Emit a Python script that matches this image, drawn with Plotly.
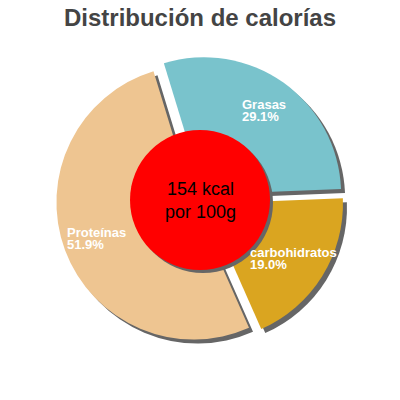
import math
import plotly.graph_objects as go

# datos
nutrientes = ['Grasas', 'carbohidratos', 'Proteínas']
porcentajes = [29.1, 19.0, 51.9]
colores = ['#79C3CC', '#DAA520', '#EEC591']
texto_centro = '154 kcal<br>por 100g'
titulo = 'Distribución de calorías'

W = H = 400
OFF = 8  # margen del body de la página


def px(x):
    return (x - OFF) / W


def py(y):
    return 1 - (y - OFF) / H


cx, cy = 200, 200     # centro del pastel en la pantalla
medio = 144           # radio + tirón, en px
rotacion = -17        # grados, sentido horario desde las 12
tirar = 0.05
oculto = '<span style="color:rgba(0,0,0,0)">{}</span>'

fig = go.Figure()

# sombra del pastel
fig.add_trace(go.Pie(
    labels=nutrientes, values=porcentajes, sort=False, direction='clockwise',
    rotation=rotacion, pull=[tirar] * len(nutrientes),
    marker=dict(colors=['#666666'] * len(nutrientes)),
    textinfo='none', hoverinfo='skip', showlegend=False,
    domain=dict(x=[px(cx - medio + 4), px(cx + medio + 4)],
                y=[py(cy + medio + 4), py(cy - medio + 4)]),
))

fig.add_trace(go.Pie(
    labels=nutrientes, values=porcentajes, sort=False, direction='clockwise',
    rotation=rotacion, pull=[tirar] * len(nutrientes),
    marker=dict(colors=colores),
    textinfo='none', showlegend=False,
    domain=dict(x=[px(cx - medio), px(cx + medio)],
                y=[py(cy + medio), py(cy - medio)]),
))

# etiquetas a lo largo del ángulo medio de cada porción
# (dos anotaciones por etiqueta, con la otra línea invisible, para juntar las líneas)
total = sum(porcentajes)
acum = rotacion
for nombre, valor in zip(nutrientes, porcentajes):
    ang = acum + valor / total * 360 / 2
    acum += valor / total * 360
    a = math.radians(ang)
    pct = f'{valor / total * 100:.1f}%'
    for txt, dy in [(f'{nombre}<br>{oculto.format(pct)}', -2.5),
                    (f'{oculto.format(nombre)}<br>{pct}', 2.5)]:
        fig.add_annotation(
            x=px(cx + 110 * math.sin(a)), y=py(cy - 110 * math.cos(a)),
            xref='paper', yref='paper', xanchor='center', yanchor='middle',
            yshift=dy, showarrow=False, text=txt, align='left',
            font=dict(family='Liberation Sans, Arial', size=13, color='white', weight='bold'),
        )

# círculo central con sombra
r0 = 70
fig.add_shape(type='circle', xref='paper', yref='paper',
              x0=px(cx - r0 + 3), x1=px(cx + r0 + 3), y0=py(cy + r0 + 3), y1=py(cy - r0 + 3),
              fillcolor='#666666', line_width=0)
fig.add_shape(type='circle', xref='paper', yref='paper',
              x0=px(cx - r0), x1=px(cx + r0), y0=py(cy + r0), y1=py(cy - r0),
              fillcolor='red', line_width=0)
fig.add_annotation(x=px(cx), y=py(cy), xref='paper', yref='paper', showarrow=False,
                   xanchor='center', yanchor='middle', text=texto_centro,
                   font=dict(family='Liberation Sans, Arial', size=18, color='black'))

fig.update_layout(
    width=W, height=H,
    margin=dict(l=0, r=0, t=0, b=0),
    paper_bgcolor='white', plot_bgcolor='white',
    title=dict(text=f'<b>{titulo}</b>', x=px(200), xanchor='center', y=py(18), yanchor='middle',
               font=dict(family='Liberation Sans, Arial', size=24, color='#444444')),
)

fig.write_html('out.html')
